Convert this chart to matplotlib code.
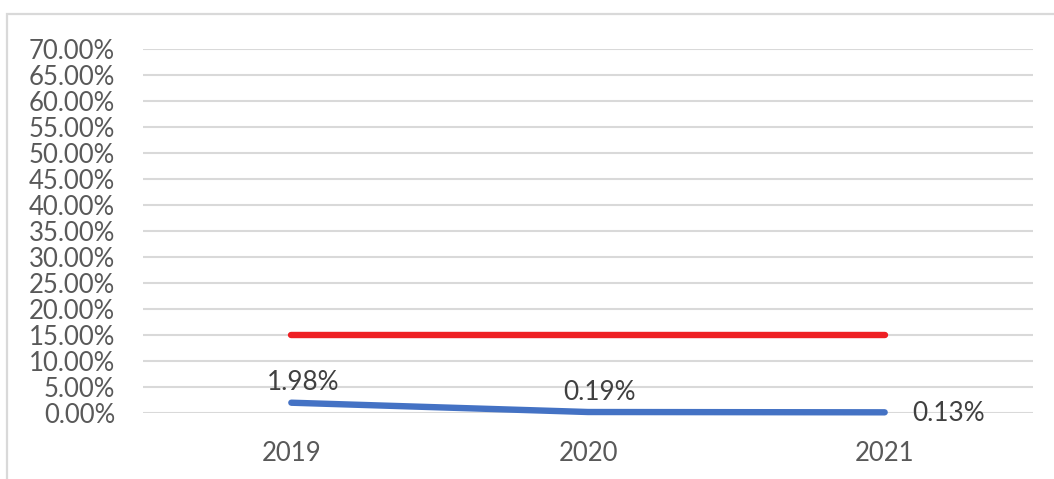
import matplotlib.pyplot as plt
from matplotlib.patches import Rectangle
from matplotlib.ticker import FuncFormatter, MultipleLocator

years = ["2019", "2020", "2021"]
actual = [0.0198, 0.0019, 0.0013]
target = [0.15, 0.15, 0.15]
actual_labels = ["1.98%", "0.19%", "0.13%"]

plt.rcParams["font.family"] = ["Lato", "DejaVu Sans"]

W, H = 1054, 479
fig = plt.figure(figsize=(W / 100, H / 100), dpi=100)
ax = fig.add_axes([143 / W, (H - 413) / H, (1033 - 143) / W, (413 - 49) / H])

# chart frame (light gray border, running off the right and bottom edges)
fig.add_artist(Rectangle((7 / W, -0.1), 1.2, (H - 14) / H + 0.1,
                         transform=fig.transFigure, fill=False,
                         edgecolor="#d9d9d9", linewidth=1.6))

x = range(len(years))
ax.plot(x, target, color="#ee2024", linewidth=4.6, solid_capstyle="round", zorder=3)
ax.plot(x, actual, color="#4472c4", linewidth=4.6, solid_capstyle="round",
        solid_joinstyle="round", zorder=4, clip_on=False)

offsets = [(12, 20), (11, 20), (28, -1)]
aligns = ["center", "center", "left"]
for i, lab in enumerate(actual_labels):
    ax.annotate(lab, (i, actual[i]), xytext=offsets[i], textcoords="offset pixels",
                ha=aligns[i], va="center", fontsize=18.8, color="#404040")

ax.set_xlim(-0.5, 2.5)
ax.set_ylim(0, 0.70)
ax.yaxis.set_major_locator(MultipleLocator(0.05))
ax.yaxis.set_major_formatter(FuncFormatter(lambda v, p: f"{v * 100:.2f}%"))
ax.set_xticks(list(x))
ax.set_xticklabels(years)

ax.grid(axis="y", color="#d9d9d9", linewidth=1.5)
ax.set_axisbelow(True)
for s in ax.spines.values():
    s.set_visible(False)
ax.tick_params(axis="both", length=0, labelsize=18.5, labelcolor="#595959")
ax.tick_params(axis="y", pad=20)
ax.tick_params(axis="x", pad=20)

fig.savefig("out.png", dpi=100)
